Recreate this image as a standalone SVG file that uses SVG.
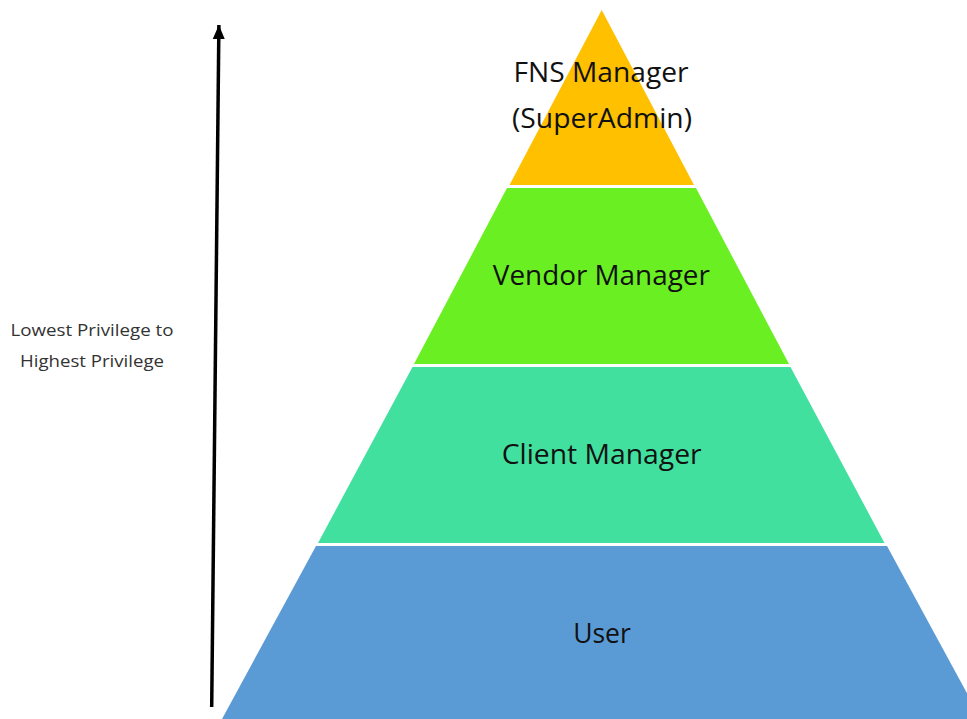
<svg xmlns="http://www.w3.org/2000/svg" width="967" height="719" viewBox="0 0 967 719">
  <defs>
    <marker id="ah" markerUnits="userSpaceOnUse" markerWidth="14" markerHeight="16" refX="14" refY="6" orient="auto" viewBox="0 0 14 12">
      <path d="M0,0 L14,6 L0,12 Z" fill="#000"/>
    </marker>
  </defs>
  <style>
    .lbl { font-family: "Open Sans", "Liberation Sans", sans-serif; font-size: 26.5px; fill: #111; text-anchor: middle; }
    .side { font-family: "Open Sans", "Liberation Sans", sans-serif; font-size: 16.5px; fill: #333; text-anchor: middle; }
  </style>
  <rect width="967" height="719" fill="#fff"/>
  <g id="connectors">
    <line x1="211.7" y1="707" x2="218.9" y2="25" stroke="#000" stroke-width="3.5" marker-end="url(#ah)"/>
  </g>
  <g id="side-label">
    <text class="side" x="92" y="336" textLength="163" lengthAdjust="spacingAndGlyphs">Lowest Privilege to</text>
    <text class="side" x="92" y="367" textLength="144" lengthAdjust="spacingAndGlyphs">Highest Privilege</text>
  </g>
  <g id="user">
    <polygon points="316,546 887,546 981,719 222,719" fill="#5B9BD5"/>
    <text class="lbl" x="602" y="643">User</text>
  </g>
  <g id="client-manager">
    <polygon points="412.5,367 790.5,367 884.5,543 318,543" fill="#42E09F"/>
    <text class="lbl" x="601.7" y="463.5" textLength="200" lengthAdjust="spacingAndGlyphs">Client Manager</text>
  </g>
  <g id="vendor-manager">
    <polygon points="507,188 696,188 789,364 414,364" fill="#6AEF22"/>
    <text class="lbl" x="601.3" y="285" textLength="217" lengthAdjust="spacingAndGlyphs">Vendor Manager</text>
  </g>
  <g id="fns-manager">
    <polygon points="601.7,10 694,185 509.5,185" fill="#FFC000"/>
    <text class="lbl" x="601" y="82" textLength="175" lengthAdjust="spacingAndGlyphs">FNS Manager</text>
    <text class="lbl" x="602" y="128" textLength="180" lengthAdjust="spacingAndGlyphs">(SuperAdmin)</text>
  </g>
</svg>
